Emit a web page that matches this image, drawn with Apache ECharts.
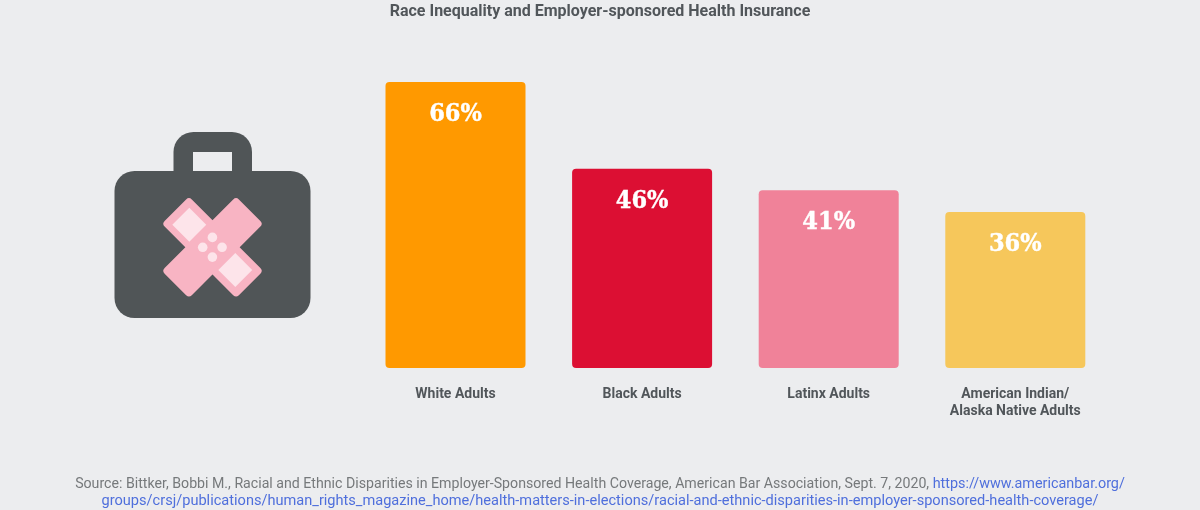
<!DOCTYPE html>
<html><head><meta charset="utf-8">
<style>html,body{margin:0;padding:0;background:#ecedef}#c{width:1200px;height:510px}</style>
<script src="https://cdn.jsdelivr.net/npm/echarts@6/dist/echarts.min.js"></script>
</head><body><div id="c"></div>
<script>
const categories = ['White Adults','Black Adults','Latinx Adults','American Indian/\nAlaska Native Adults'];
const values = [66,46,41,36];
const colors = ['#ff9900','#dc0f33','#f08299','#f6c75b'];
const chartTitle = 'Race Inequality and Employer-sponsored Health Insurance';
const sourceLine1 = 'Source: Bittker, Bobbi M., Racial and Ethnic Disparities in Employer-Sponsored Health Coverage, American Bar Association, Sept. 7, 2020, ';
const linkLine1 = 'https://www.americanbar.org/';
const linkLine2 = 'groups/crsj/publications/human_rights_magazine_home/health-matters-in-elections/racial-and-ethnic-disparities-in-employer-sponsored-health-coverage/';
const font = 'Roboto';
const chart = echarts.init(document.getElementById('c'), null, {renderer:'canvas'});
const gray = {fontFamily:font,fontSize:14.17,fontWeight:'normal',color:'#76797b',lineHeight:18};
const blue1 = {fontFamily:font,fontSize:14.38,fontWeight:'normal',color:'#4f6fdc',lineHeight:18};
const blue2 = {fontFamily:font,fontSize:14.58,fontWeight:'normal',color:'#4f6fdc',lineHeight:18};
chart.setOption({
  backgroundColor:'#ecedef',
  animation:false,
  title:[
    {text:chartTitle,left:'center',top:-3,textStyle:{fontFamily:font,fontSize:16,fontWeight:'bold',color:'#51565a',lineHeight:19}},
    {text:`{g|${sourceLine1}}{b|${linkLine1}}`,left:'center',top:475,padding:0,textStyle:{fontWeight:'normal',rich:{g:gray,b:blue1}}},
    {text:`{b|${linkLine2}}`,left:'center',top:492,padding:0,textStyle:{fontWeight:'normal',rich:{b:blue2}}}
  ],
  grid:{left:362.2,width:746.4,top:82,height:286},
  xAxis:{type:'category',data:categories,axisLine:{show:false},axisTick:{show:false},
    axisLabel:{interval:0,margin:18,fontFamily:font,fontSize:14,fontWeight:'bold',color:'#51565a',lineHeight:17,verticalAlign:'top'}},
  yAxis:{type:'value',min:0,max:66,show:false},
  series:[{type:'bar',barWidth:140,
    data:values.map((v,i)=>({value:v,itemStyle:{color:colors[i],borderRadius:4}})),
    label:{show:true,position:'insideTop',distance:20,formatter:'{c}%',fontFamily:'DejaVu Serif Condensed, DejaVu Serif',fontWeight:'bold',fontSize:25,color:'#fff',textBorderColor:'#fff',textBorderWidth:0.4}}],
  graphic:[
    {type:'rect',shape:{x:173.5,y:132,width:78.5,height:60,r:[20,20,0,0]},style:{fill:'#505557'}},
    {type:'rect',shape:{x:193,y:152,width:39,height:20},style:{fill:'#ecedef'}},
    {type:'rect',shape:{x:114.5,y:171,width:196,height:147,r:20},style:{fill:'#505557'}},
    {type:'rect',x:212.5,y:247.3,rotation:Math.PI/4,shape:{x:-52.5,y:-19.2,width:105,height:38.4,r:4},style:{fill:'#f8b4c3'}},
    {type:'rect',x:212.5,y:247.3,rotation:-Math.PI/4,shape:{x:-52.5,y:-19.2,width:105,height:38.4,r:4},style:{fill:'#f8b4c3'}},
    {type:'rect',x:189.3,y:224.7,rotation:Math.PI/4,shape:{x:-12,y:-12,width:24,height:24},style:{fill:'#fde4ea'}},
    {type:'rect',x:235.3,y:270,rotation:Math.PI/4,shape:{x:-12,y:-12,width:24,height:24},style:{fill:'#fde4ea'}},
    {type:'circle',shape:{cx:212.4,cy:237.4,r:4.8},style:{fill:'#fde4ea'}},
    {type:'circle',shape:{cx:202.7,cy:247.3,r:4.8},style:{fill:'#fde4ea'}},
    {type:'circle',shape:{cx:222.1,cy:247.3,r:4.8},style:{fill:'#fde4ea'}},
    {type:'circle',shape:{cx:212.4,cy:257.1,r:4.8},style:{fill:'#fde4ea'}}
  ]
});
</script></body></html>
